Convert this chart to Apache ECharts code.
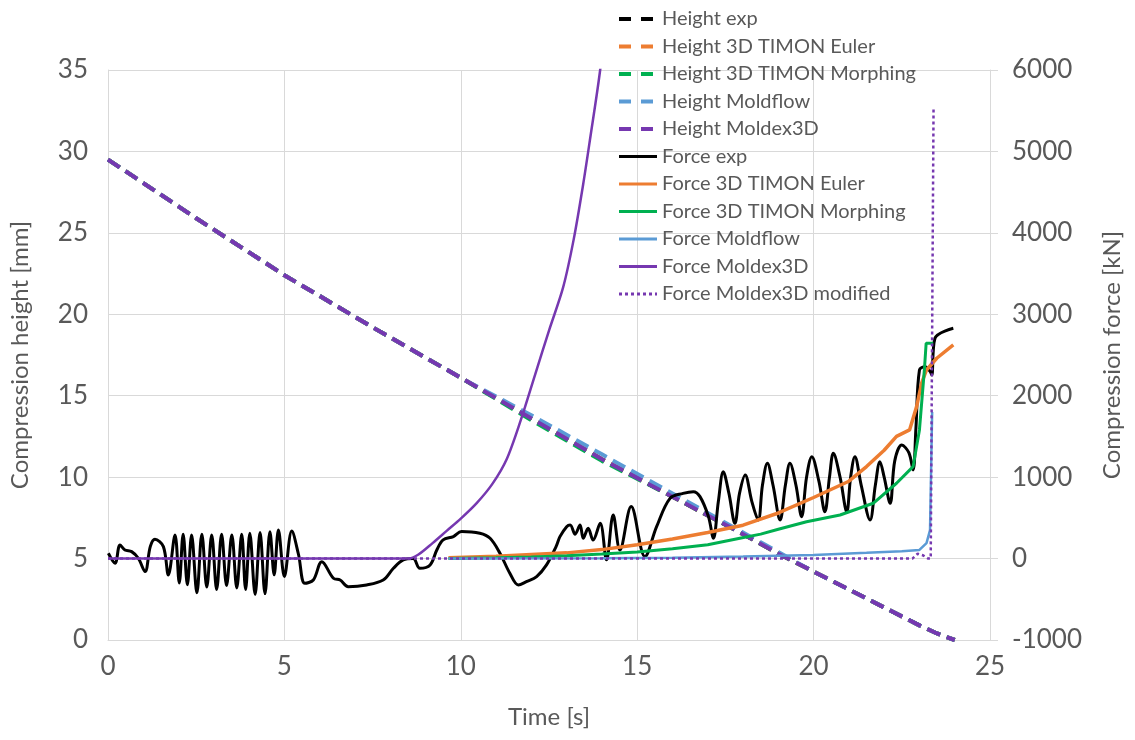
<!DOCTYPE html>
<html>
<head>
<meta charset="utf-8">
<title>Compression height and force</title>
<script src="https://cdn.jsdelivr.net/npm/echarts@6/dist/echarts.min.js"></script>
<style>
  html, body { margin: 0; padding: 0; background: #ffffff; }
  #chart { width: 1135px; height: 740px; }
</style>
</head>
<body>
<div id="chart"></div>
<script>
// Compression height [mm] over time [s]
const heightExp = [[0,29.5],[2.5,25.9],[5,22.4],[7.5,19.2],[10,16.1],[12,13.6],[14,11.1],[16,8.8],[18,6.5],[19,5.3],[20,4.2],[21,3.1],[22,2.0],[23,0.9],[23.5,0.4],[24,0.0]];
const heightEuler = [[0,29.5],[2.5,25.9],[5,22.4],[7.5,19.2],[10,16.1],[12,13.6],[14,11.1],[16,8.8],[18,6.5],[19,5.3],[20,4.2],[21,3.1],[22,2.0],[23,0.9],[23.5,0.4],[24,0.0]];
const heightMorphing = [[0,29.5],[2.5,25.9],[5,22.4],[7.5,19.2],[10,16.1],[12,13.5],[14,11.0],[16,8.8],[18,6.5],[19,5.3],[20,4.2],[21,3.1],[22,2.0],[23,0.9],[23.5,0.4],[24,0.0]];
const heightMoldflow = [[0,29.5],[2.5,25.9],[5,22.4],[7.5,19.2],[10,16.1],[12,13.8],[14,11.4],[16,9.0],[18,6.6],[19,5.4],[20,4.2],[21,3.1],[22,2.0],[23,0.9],[23.5,0.4],[24,0.0]];
const heightMoldex = [[0,29.5],[2.5,25.9],[5,22.4],[7.5,19.2],[10,16.1],[12,13.6],[14,11.1],[16,8.8],[18,6.5],[19,5.3],[20,4.2],[21,3.1],[22,2.0],[23,0.9],[23.5,0.4],[24,0.0]];

// Compression force [kN] over time [s]
const forceExp = [
  [0.01,65],[0.2,-58],[0.34,167],[0.48,106],[0.67,85],[0.86,4],[1.05,-160],[1.2,150],[1.33,237],[1.57,147],[1.71,-201],
  [1.9,290],[2.02,-300],[2.13,300],[2.25,-320],[2.37,290],[2.52,-420],[2.66,300],[2.8,-350],[2.94,290],[3.08,-380],
  [3.22,300],[3.36,-330],[3.51,290],[3.65,-360],[3.79,300],[3.9,-380],[4.02,310],[4.17,-440],[4.31,320],[4.45,-430],
  [4.59,330],[4.71,-200],[4.83,350],[5.0,-220],[5.21,338],[5.4,50],[5.58,-304],[5.82,-263],[6.06,-38],[6.39,-242],
  [6.58,-263],[6.81,-345],[7.33,-324],[7.8,-263],[8.09,-119],[8.37,-17],[8.65,0],[8.84,-119],[9.13,-78],[9.32,106],
  [9.5,229],[9.79,270],[10.02,331],[10.54,310],[10.83,249],[11.11,65],[11.39,-180],[11.63,-324],[11.86,-283],
  [12.15,-221],[12.43,-78],[12.7,147],[12.81,269],[13.0,392],[13.1,413],[13.24,300],[13.38,413],[13.47,249],
  [13.61,372],[13.75,228],[13.95,433],[14.13,-16],[14.32,535],[14.51,106],[14.83,638],[15.22,24],[15.55,392],
  [15.93,740],[16.3,800],[16.59,822],[16.78,761],[17.02,515],[17.16,249],[17.3,700],[17.44,1067],[17.6,800],
  [17.77,433],[17.9,800],[18.06,1027],[18.25,700],[18.43,474],[18.55,900],[18.69,1170],[18.85,900],[19.05,474],
  [19.2,900],[19.33,1170],[19.5,900],[19.66,515],[19.8,1000],[19.95,1251],[20.15,950],[20.32,576],[20.45,1000],
  [20.56,1293],[20.75,1000],[20.94,576],[21.05,1000],[21.17,1251],[21.35,900],[21.6,474],[21.75,900],[21.88,1190],
  [22.0,1000],[22.17,679],[22.3,1200],[22.5,1395],[22.7,1300],[22.82,1088],[22.9,1600],[23.0,2316],[23.16,2357],
  [23.3,2300],[23.35,2255],[23.44,2705],[23.96,2828]
];
const forceEuler = [[9.65,10],[11,30],[12,50],[13,70],[14,110],[15,170],[16,240],[17,320],[18,410],[19,560],[20,750],[21,950],[21.5,1130],[22,1330],[22.35,1500],[22.72,1580],[22.92,1866],[23.06,2153],[23.2,2316],[23.49,2460],[23.96,2623]];
const forceMorphing = [[9.65,0],[11,10],[12,20],[13,35],[14,55],[15,80],[16,120],[17,170],[17.91,249],[18.5,300],[19,360],[19.8,453],[20.75,535],[21.69,679],[22.35,925],[22.82,1129],[23.0,1579],[23.14,2316],[23.19,2644],[23.39,2644]];
const forceMoldflow = [[9.65,0],[14,5],[16,10],[18,25],[20,45],[21.5,70],[22.5,90],[23,106],[23.2,190],[23.3,350],[23.36,1800]];
const forceMoldex = [[0,0],[8.5,0],[8.8,50],[9.2,190],[9.6,340],[10.0,490],[10.45,680],[10.9,920],[11.3,1220],[11.7,1700],[12.1,2250],[12.5,2800],[12.9,3330],[13.2,3920],[13.47,4600],[13.66,5140],[13.95,6000],[14.2,7000]];
const forceMoldexMod = [[0,0],[22.8,0],[22.95,60],[23.1,40],[23.25,0],[23.32,0],[23.4,5545]];

// Axis ranges and tick steps
const timeTicks = { min: 0, max: 25, step: 5 };
const heightTicks = { min: 0, max: 35, step: 5 };
const forceTicks = { min: -1000, max: 6000, step: 1000 };

const FONT = 'Lato';
const TEXT = '#595959';
const GRID = '#d9d9d9';
const C = { black: '#000000', orange: '#ED7D31', green: '#00B050', blue: '#5B9BD5', purple: '#7638B0' };

function heightSeries(name, data, color) {
  return {
    name, type: 'line', yAxisIndex: 0, data, symbol: 'none', showSymbol: false,
    lineStyle: { color, width: 4, type: [14, 7] }, itemStyle: { color }
  };
}
function forceSeries(name, data, color, width, extra) {
  return Object.assign({
    name, type: 'line', yAxisIndex: 1, data, symbol: 'none', showSymbol: false,
    lineStyle: { color, width }, itemStyle: { color }
  }, extra || {});
}

const dashedKey = { type: [12, 10], width: 4, cap: 'butt' };
const solidKey = { type: 'solid', width: 3 };

const option = {
  animation: false,
  backgroundColor: '#ffffff',
  textStyle: { fontFamily: FONT },
  grid: { left: 108, right: 145, top: 70, bottom: 100 },
  legend: {
    orient: 'vertical', left: 612, top: 4,
    itemWidth: 38, itemHeight: 14, itemGap: 7.5,
    itemStyle: { opacity: 0 },
    textStyle: { fontFamily: FONT, fontSize: 20, color: TEXT, lineHeight: 20 },
    data: [
      { name: 'Height exp', lineStyle: dashedKey },
      { name: 'Height 3D TIMON Euler', lineStyle: dashedKey },
      { name: 'Height 3D TIMON Morphing', lineStyle: dashedKey },
      { name: 'Height Moldflow', lineStyle: dashedKey },
      { name: 'Height Moldex3D', lineStyle: dashedKey },
      { name: 'Force exp', lineStyle: solidKey },
      { name: 'Force 3D TIMON Euler', lineStyle: solidKey },
      { name: 'Force 3D TIMON Morphing', lineStyle: solidKey },
      { name: 'Force Moldflow', lineStyle: solidKey },
      { name: 'Force Moldex3D', lineStyle: solidKey },
      { name: 'Force Moldex3D modified', lineStyle: { type: [3, 3], width: 3 } }
    ]
  },
  xAxis: {
    type: 'value', min: timeTicks.min, max: timeTicks.max, interval: timeTicks.step,
    name: 'Time [s]', nameLocation: 'middle', nameGap: 65,
    nameTextStyle: { fontFamily: FONT, fontSize: 24, color: TEXT },
    axisLine: { show: true, lineStyle: { color: GRID, width: 1 } },
    axisTick: { show: false },
    axisLabel: { fontFamily: FONT, fontSize: 26, color: TEXT, margin: 14 },
    splitLine: { show: true, lineStyle: { color: GRID, width: 1 } }
  },
  yAxis: [
    {
      type: 'value', position: 'left', min: heightTicks.min, max: heightTicks.max, interval: heightTicks.step,
      name: 'Compression height [mm]', nameLocation: 'middle', nameGap: 76,
      nameTextStyle: { fontFamily: FONT, fontSize: 24, color: TEXT },
      axisLine: { show: true, lineStyle: { color: GRID, width: 1 } },
      axisTick: { show: false },
      axisLabel: { fontFamily: FONT, fontSize: 26, color: TEXT, margin: 20 },
      splitLine: { show: true, lineStyle: { color: GRID, width: 1 } }
    },
    {
      type: 'value', position: 'right', min: forceTicks.min, max: forceTicks.max, interval: forceTicks.step,
      name: 'Compression force [kN]', nameLocation: 'middle', nameGap: 110,
      nameTextStyle: { fontFamily: FONT, fontSize: 24, color: TEXT },
      axisLine: { show: true, lineStyle: { color: GRID, width: 1 } },
      axisTick: { show: true, length: 8, lineStyle: { color: GRID } },
      axisLabel: { fontFamily: FONT, fontSize: 26, color: TEXT, margin: 22, formatter: v => String(v) },
      splitLine: { show: false }
    }
  ],
  series: [
    heightSeries('Height exp', heightExp, C.black),
    heightSeries('Height 3D TIMON Euler', heightEuler, C.orange),
    heightSeries('Height 3D TIMON Morphing', heightMorphing, C.green),
    heightSeries('Height Moldflow', heightMoldflow, C.blue),
    heightSeries('Height Moldex3D', heightMoldex, C.purple),
    forceSeries('Force exp', forceExp, C.black, 3, { smooth: 0.35 }),
    forceSeries('Force 3D TIMON Euler', forceEuler, C.orange, 3.5),
    forceSeries('Force 3D TIMON Morphing', forceMorphing, C.green, 3),
    forceSeries('Force Moldflow', forceMoldflow, C.blue, 2.5),
    forceSeries('Force Moldex3D', forceMoldex, C.purple, 2.5, { smooth: 0.3 }),
    forceSeries('Force Moldex3D modified', forceMoldexMod, C.purple, 2.5, { lineStyle: { color: C.purple, width: 2.5, type: [3, 3] } })
  ]
};

const chart = echarts.init(document.getElementById('chart'), null, { renderer: 'canvas' });
chart.setOption(option);
</script>
</body>
</html>
